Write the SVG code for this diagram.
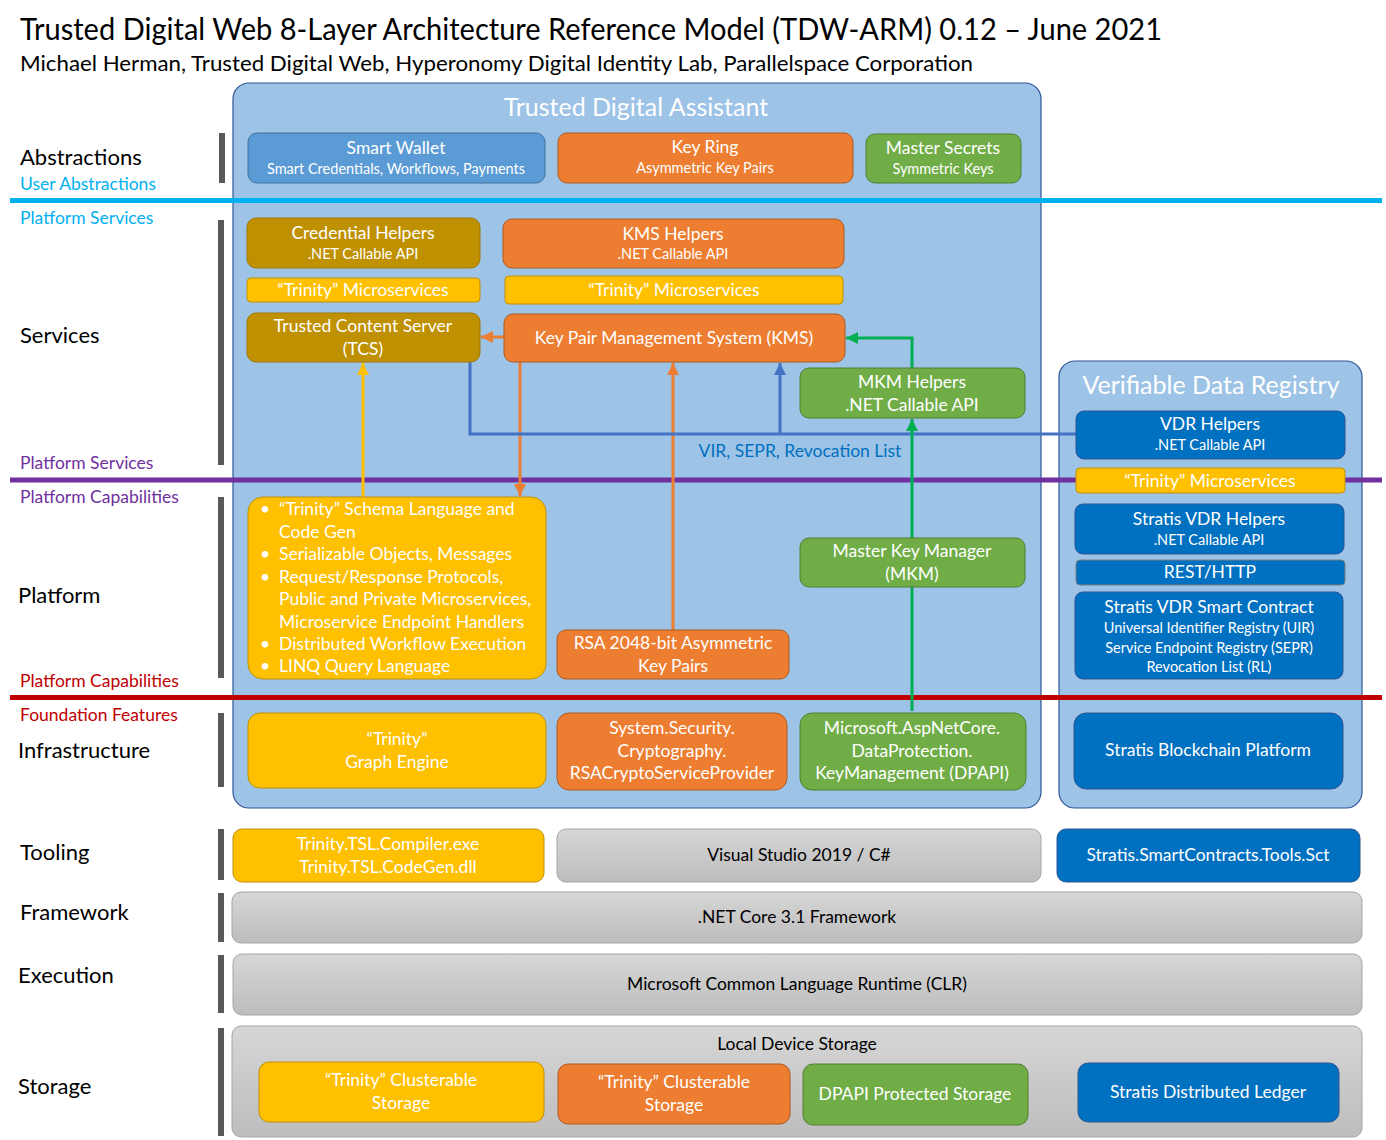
<svg xmlns="http://www.w3.org/2000/svg" width="1386" height="1140" viewBox="0 0 1386 1140">
<defs>
<style>
text{font-family:Lato,"Open Sans","Liberation Sans",sans-serif;}
.t{fill:#000;}
.lbl{font-size:22px;fill:#000;}
.sub{font-size:17.5px;}
.w{fill:#fff;text-anchor:middle;}
.w17{font-size:17.5px;}
.w14{font-size:14.5px;}
.k{fill:#000;text-anchor:middle;font-size:17.5px;}
.bar{fill:#595959;}
.panel{fill:#9DC3E6;stroke:#2F5597;stroke-width:1.2;}
.blue1{fill:#5B9BD5;stroke:#41719C;stroke-width:1;}
.or{fill:#ED7D31;stroke:#AE5A21;stroke-width:1;}
.gr{fill:#70AD47;stroke:#507E32;stroke-width:1;}
.gold{fill:#BF9000;stroke:#A07800;stroke-width:1;}
.ye{fill:#FFC000;stroke:#BF9000;stroke-width:1;}
.db{fill:#0070C0;stroke:#2F5597;stroke-width:1;}
.gy{fill:url(#gg);stroke:#A6A6A6;stroke-width:1;}
.c{fill:none;stroke-width:3;}
</style>
<linearGradient id="gg" x1="0" y1="0" x2="0" y2="1">
<stop offset="0" stop-color="#D6D6D6"/>
<stop offset="1" stop-color="#BDBDBD"/>
</linearGradient>
<marker id="ao" viewBox="0 0 10 10" refX="10" refY="5" markerWidth="13" markerHeight="12" markerUnits="userSpaceOnUse" orient="auto"><path d="M0,0 L10,5 L0,10 z" fill="#ED7D31"/></marker>
<marker id="ay" viewBox="0 0 10 10" refX="10" refY="5" markerWidth="13" markerHeight="12" markerUnits="userSpaceOnUse" orient="auto"><path d="M0,0 L10,5 L0,10 z" fill="#FFC000"/></marker>
<marker id="ab" viewBox="0 0 10 10" refX="10" refY="5" markerWidth="13" markerHeight="12" markerUnits="userSpaceOnUse" orient="auto"><path d="M0,0 L10,5 L0,10 z" fill="#4472C4"/></marker>
<marker id="ag" viewBox="0 0 10 10" refX="10" refY="5" markerWidth="13" markerHeight="12" markerUnits="userSpaceOnUse" orient="auto"><path d="M0,0 L10,5 L0,10 z" fill="#00B050"/></marker>
</defs>
<rect width="1386" height="1140" fill="#fff"/>

<g id="header">
<text x="20" y="40" font-size="30" class="t" textLength="1142" lengthAdjust="spacingAndGlyphs">Trusted Digital Web 8-Layer  Architecture Reference Model (TDW-ARM) 0.12 – June 2021</text>
<text x="20" y="71" font-size="21" class="t" textLength="953" lengthAdjust="spacingAndGlyphs">Michael Herman, Trusted Digital Web,  Hyperonomy Digital Identity Lab, Parallelspace Corporation</text>
</g>

<g id="layer-labels">
<text x="20" y="165" class="lbl">Abstractions</text>
<text x="20" y="190" class="sub" fill="#00B0F0">User Abstractions</text>
<text x="20" y="224" class="sub" fill="#00B0F0">Platform Services</text>
<text x="20" y="343" class="lbl">Services</text>
<text x="20" y="469" class="sub" fill="#7030A0">Platform Services</text>
<text x="20" y="503" class="sub" fill="#7030A0">Platform Capabilities</text>
<text x="18" y="603" class="lbl">Platform</text>
<text x="20" y="687" class="sub" fill="#C00000">Platform Capabilities</text>
<text x="20" y="721" class="sub" fill="#C00000">Foundation Features</text>
<text x="18" y="758" class="lbl">Infrastructure</text>
<text x="20" y="860" class="lbl">Tooling</text>
<text x="20" y="920" class="lbl">Framework</text>
<text x="18" y="983" class="lbl">Execution</text>
<text x="18" y="1094" class="lbl">Storage</text>
<rect class="bar" x="219" y="133" width="6" height="50"/>
<rect class="bar" x="218" y="220" width="6" height="245"/>
<rect class="bar" x="218" y="497" width="6" height="181"/>
<rect class="bar" x="218" y="713" width="6" height="74"/>
<rect class="bar" x="218" y="829" width="6" height="51"/>
<rect class="bar" x="218" y="893" width="6" height="49"/>
<rect class="bar" x="218" y="955" width="6" height="58"/>
<rect class="bar" x="218" y="1028" width="6" height="108"/>
</g>

<g id="tda-panel">
<rect class="panel" x="233" y="83" width="808" height="725" rx="16"/>
<text x="636" y="116" class="w" font-size="25">Trusted Digital Assistant</text>
</g>
<g id="vdr-panel">
<rect class="panel" x="1059" y="361" width="303" height="447" rx="16"/>
<text x="1211" y="394" class="w" font-size="25">Verifiable Data Registry</text>
</g>

<g id="boundaries">
<rect x="10" y="198" width="1372" height="5" fill="#00B0F0"/>
<rect x="10" y="477.5" width="1372" height="5" fill="#7030A0"/>
<rect x="10" y="695" width="1372" height="5" fill="#C00000"/>
</g>

<g id="connectors">
<path class="c" stroke="#ED7D31" d="M504,337 L481,337" marker-end="url(#ao)"/>
<path class="c" stroke="#FFC000" d="M363,497 L363,363" marker-end="url(#ay)"/>
<path class="c" stroke="#ED7D31" d="M520,362 L520,496" marker-end="url(#ao)"/>
<path class="c" stroke="#ED7D31" d="M673,630 L673,363" marker-end="url(#ao)"/>
<path class="c" stroke="#4472C4" d="M470,362 L470,434 L1076,434"/>
<path class="c" stroke="#4472C4" d="M780,434 L780,363" marker-end="url(#ab)"/>
<path class="c" stroke="#00B050" d="M912,711 L912,419" marker-end="url(#ag)"/>
<path class="c" stroke="#00B050" d="M912,368 L912,338 L846,338" marker-end="url(#ag)"/>
<text x="800" y="457" font-size="17.5" fill="#0070C0" text-anchor="middle">VIR, SEPR, Revocation List</text>
</g>

<g id="smart-wallet">
<rect class="blue1" x="248" y="133" width="297" height="50" rx="9"/>
<text x="396" y="154" class="w w17">Smart Wallet</text>
<text x="396" y="174" class="w w14">Smart Credentials, Workflows,  Payments</text>
</g>
<g id="key-ring">
<rect class="or" x="558" y="133" width="295" height="50" rx="9"/>
<text x="705" y="153" class="w w17">Key Ring</text>
<text x="705" y="173" class="w w14">Asymmetric  Key Pairs</text>
</g>
<g id="master-secrets">
<rect class="gr" x="866" y="134" width="155" height="49" rx="9"/>
<text x="943" y="154" class="w w17">Master Secrets</text>
<text x="943" y="174" class="w w14">Symmetric  Keys</text>
</g>

<g id="credential-helpers">
<rect class="gold" x="247" y="218" width="233" height="50" rx="9"/>
<text x="363" y="239" class="w w17">Credential Helpers</text>
<text x="363" y="259" class="w w14">.NET Callable API</text>
</g>
<g id="kms-helpers">
<rect class="or" x="503" y="219" width="341" height="49" rx="9"/>
<text x="673" y="240" class="w w17">KMS Helpers</text>
<text x="673" y="259" class="w w14">.NET Callable API</text>
</g>
<g id="trinity-ms-left">
<rect class="ye" x="247" y="278" width="233" height="24" rx="4"/>
<text x="363" y="296" class="w w17">“Trinity” Microservices</text>
</g>
<g id="trinity-ms-right">
<rect class="ye" x="505" y="276" width="338" height="28" rx="4"/>
<text x="674" y="296" class="w w17">“Trinity” Microservices</text>
</g>
<g id="tcs">
<rect class="gold" x="247" y="313" width="233" height="49" rx="9"/>
<text x="363" y="332" class="w w17">Trusted Content Server</text>
<text x="363" y="355" class="w w17">(TCS)</text>
</g>
<g id="kms">
<rect class="or" x="504" y="314" width="341" height="48" rx="9"/>
<text x="674" y="344" class="w w17">Key Pair Management System (KMS)</text>
</g>
<g id="mkm-helpers">
<rect class="gr" x="800" y="368" width="225" height="50" rx="9"/>
<text x="912" y="388" class="w w17">MKM Helpers</text>
<text x="912" y="411" class="w w17">.NET Callable API</text>
</g>

<g id="trinity-platform">
<rect class="ye" x="248" y="497" width="298" height="182" rx="15"/>
<g fill="#fff" font-size="17.5">
<text x="260" y="515">•</text><text x="279" y="515">“Trinity” Schema Language and</text>
<text x="279" y="538">Code Gen</text>
<text x="260" y="560">•</text><text x="279" y="560">Serializable Objects, Messages</text>
<text x="260" y="583">•</text><text x="279" y="583">Request/Response Protocols,</text>
<text x="279" y="605">Public and Private Microservices,</text>
<text x="279" y="628">Microservice Endpoint Handlers</text>
<text x="260" y="650">•</text><text x="279" y="650">Distributed Workflow Execution</text>
<text x="260" y="672">•</text><text x="279" y="672">LINQ Query Language</text>
</g>
</g>
<g id="rsa">
<rect class="or" x="557" y="630" width="232" height="49" rx="9"/>
<text x="673" y="649" class="w w17">RSA 2048-bit Asymmetric</text>
<text x="673" y="672" class="w w17">Key Pairs</text>
</g>
<g id="mkm">
<rect class="gr" x="800" y="538" width="225" height="49" rx="9"/>
<text x="912" y="557" class="w w17">Master Key Manager</text>
<text x="912" y="580" class="w w17">(MKM)</text>
</g>

<g id="graph-engine">
<rect class="ye" x="248" y="713" width="298" height="75" rx="12"/>
<text x="397" y="745" class="w w17">“Trinity”</text>
<text x="397" y="768" class="w w17">Graph Engine</text>
</g>
<g id="rsa-csp">
<rect class="or" x="557" y="713" width="230" height="77" rx="12"/>
<text x="672" y="734" class="w w17">System.Security.</text>
<text x="672" y="757" class="w w17">Cryptography.</text>
<text x="672" y="779" class="w w17">RSACryptoServiceProvider</text>
</g>
<g id="dpapi">
<rect class="gr" x="800" y="713" width="226" height="77" rx="12"/>
<text x="912" y="734" class="w w17">Microsoft.AspNetCore.</text>
<text x="912" y="757" class="w w17">DataProtection.</text>
<text x="912" y="779" class="w w17">KeyManagement (DPAPI)</text>
</g>

<g id="vdr-helpers">
<rect class="db" x="1076" y="411" width="269" height="48" rx="8"/>
<text x="1210" y="430" class="w w17">VDR Helpers</text>
<text x="1210" y="450" class="w w14">.NET Callable API</text>
</g>
<g id="vdr-trinity">
<rect class="ye" x="1076" y="468" width="269" height="25" rx="4"/>
<text x="1210" y="487" class="w w17">“Trinity” Microservices</text>
</g>
<g id="stratis-vdr-helpers">
<rect class="db" x="1075" y="504" width="269" height="50" rx="8"/>
<text x="1209" y="525" class="w w17">Stratis VDR Helpers</text>
<text x="1209" y="545" class="w w14">.NET Callable API</text>
</g>
<g id="rest-http">
<rect x="1076" y="560" width="269" height="25" rx="4" fill="#0070C0" stroke="#7F7F7F" stroke-width="1"/>
<text x="1210" y="578" class="w w17">REST/HTTP</text>
</g>
<g id="stratis-vdr-contract">
<rect class="db" x="1075" y="592" width="268" height="87" rx="8"/>
<text x="1209" y="613" class="w w17">Stratis VDR Smart Contract</text>
<text x="1209" y="633" class="w w14">Universal Identifier Registry (UIR)</text>
<text x="1209" y="653" class="w w14">Service Endpoint Registry  (SEPR)</text>
<text x="1209" y="672" class="w w14">Revocation List (RL)</text>
</g>
<g id="stratis-blockchain">
<rect class="db" x="1074" y="713" width="269" height="76" rx="12"/>
<text x="1208" y="756" class="w w17">Stratis Blockchain Platform</text>
</g>

<g id="tsl-tools">
<rect class="ye" x="233" y="829" width="311" height="53" rx="9"/>
<text x="388" y="850" class="w w17">Trinity.TSL.Compiler.exe</text>
<text x="388" y="873" class="w w17">Trinity.TSL.CodeGen.dll</text>
</g>
<g id="visual-studio">
<rect class="gy" x="557" y="829" width="484" height="53" rx="9"/>
<text x="799" y="861" class="k">Visual Studio 2019 / C#</text>
</g>
<g id="stratis-sct">
<rect class="db" x="1057" y="829" width="303" height="53" rx="9"/>
<text x="1208" y="861" class="w w17">Stratis.SmartContracts.Tools.Sct</text>
</g>

<g id="netcore">
<rect class="gy" x="232" y="892" width="1130" height="51" rx="9"/>
<text x="797" y="923" class="k">.NET Core 3.1 Framework</text>
</g>
<g id="clr">
<rect class="gy" x="233" y="954" width="1129" height="61" rx="9"/>
<text x="797" y="990" class="k">Microsoft Common Language Runtime (CLR)</text>
</g>
<g id="local-storage">
<rect class="gy" x="232" y="1026" width="1130" height="111" rx="9"/>
<text x="797" y="1050" class="k">Local Device Storage</text>
</g>
<g id="trinity-storage-yellow">
<rect class="ye" x="259" y="1062" width="285" height="60" rx="10"/>
<text x="401" y="1086" class="w w17">“Trinity” Clusterable</text>
<text x="401" y="1109" class="w w17">Storage</text>
</g>
<g id="trinity-storage-orange">
<rect class="or" x="558" y="1064" width="232" height="60" rx="10"/>
<text x="674" y="1088" class="w w17">“Trinity” Clusterable</text>
<text x="674" y="1111" class="w w17">Storage</text>
</g>
<g id="dpapi-storage">
<rect class="gr" x="803" y="1064" width="225" height="61" rx="10"/>
<text x="915" y="1100" class="w w17">DPAPI Protected Storage</text>
</g>
<g id="stratis-ledger">
<rect class="db" x="1078" y="1063" width="261" height="59" rx="10"/>
<text x="1208" y="1098" class="w w17">Stratis Distributed Ledger</text>
</g>
</svg>
